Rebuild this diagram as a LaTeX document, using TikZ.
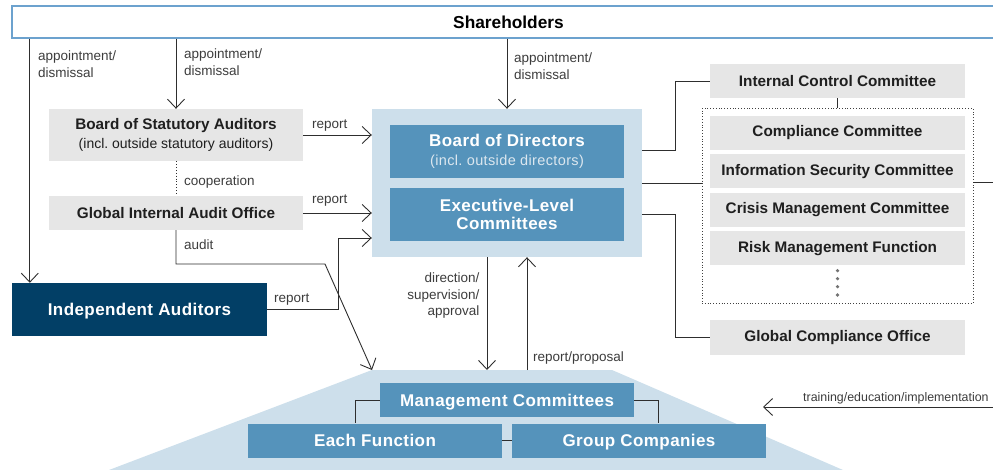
\documentclass[tikz,border=0pt]{standalone}
\usepackage{fontspec}
\setmainfont{Liberation Sans}
\usetikzlibrary{positioning, arrows.meta}
\frenchspacing
\definecolor{boxgray}{HTML}{E6E6E6}
\definecolor{paleblue}{HTML}{CDDFEB}
\definecolor{midblue}{HTML}{5593BB}
\definecolor{navy}{HTML}{023F66}
\definecolor{lineblue}{HTML}{6CA2CE}
\definecolor{txtgray}{HTML}{3C3C3C}
\definecolor{subwhite}{HTML}{DCE7EF}
\tikzset{graybox/.style={fill=boxgray,inner sep=0pt,minimum width=255pt,minimum height=34pt,
           text=black!88,align=center,font=\fontsize{15.3}{18}\selectfont\bfseries},
         bluebox/.style={fill=midblue,inner sep=0pt,minimum width=254pt,minimum height=34pt,
           text=white,align=center,font=\fontsize{17}{18.5}\selectfont\addfontfeature{LetterSpace=2.5}\bfseries},
         oneline/.style={text height=14pt,text depth=1.6pt},
         lbl/.style={inner sep=0pt,text=txtgray,align=left,font=\fontsize{13.5}{16.5}\selectfont},
         conn/.style={draw=black!82,line width=0.9pt},
         arr/.style={conn,-{Straight Barb[length=9pt,width=17pt]}}}

\begin{document}
\begin{tikzpicture}[x=1pt,y=-1pt]
        \useasboundingbox (0,0) rectangle (993,470);
        % background shapes
        \fill[paleblue] (372,370) coordinate (tl) -- (612,370) -- (843,470) -- (109,470) -- cycle;
        \node[fill=paleblue, minimum width=270pt, minimum height=148pt, inner sep=0pt](bg)at(507,183){};

        \node[draw=lineblue, line width=1.3pt, fill=white, minimum width=993pt, minimum height=32pt, inner sep=0pt,
              font=\fontsize{17.3}{18}\selectfont\bfseries](sh)at(508.5,22){Shareholders};

        \node[graybox, minimum width=254pt, minimum height=52pt](bsa)at(176,135){Board of Statutory Auditors\\[1pt]
              {\mdseries\fontsize{14}{17}\selectfont (incl. outside statutory auditors)}};
        \node[graybox, minimum width=254pt](giao)at(176,213){Global Internal Audit Office};
        \node[bluebox, oneline, fill=navy, minimum width=255pt, minimum height=53pt](ia)at(139.5,309.5){Independent Auditors};

        \node[bluebox, minimum width=234pt, minimum height=53pt](bod)at(507,151.5){Board of Directors\\
              {\mdseries\fontsize{14.5}{17}\selectfont\color{subwhite}(incl. outside directors)}};
        \node[bluebox, minimum width=234pt, minimum height=53pt](elc)at(507,214.5){Executive-Level\\Committees};

        \node[graybox](icc)at(837.5,81){Internal Control Committee};
        \node[draw=black!75, dotted, line width=0.8pt, minimum width=271pt, minimum height=195pt, inner sep=0pt](grp)at(837.5,206){};
        \node[graybox](cc)at(837.5,133){Compliance Committee};
        \node[graybox, below=4pt of cc](isc){Information Security Committee};
        \node[graybox, below=4pt of isc](cmc){Crisis Management Committee};
        \node[graybox, below=4pt of cmc](rmf){Risk Management Function};
        \foreach \y in {270.7,278.7,286.7,295}
            \fill[black!55] (837.5,\y) circle (1.8pt);
        \node[graybox, minimum height=35pt](gco)at(837.5,337.5){Global Compliance Office};

        \node[bluebox, oneline](mc)at(507,400){Management Committees};
        \node[bluebox, oneline](ef)at(375,440.5){Each Function};
        \node[bluebox, oneline](gc)at(639,440.5){Group Companies};

        % connectors
        \draw[arr]([xshift=18pt]ia.north west |- sh.south)--([xshift=18pt]ia.north west);
        \draw[arr](bsa.north |- sh.south)--(bsa.north);
        \draw[arr](bg.north |- sh.south)--(bg.north);
        \draw[arr](bsa.east)--(bsa.east -| bg.west);
        \draw[conn, dotted](bsa.south)--(giao.north);
        \draw[arr](giao.east)--(giao.east -| bg.west);
        \draw[arr](giao.south)|-(325,264)--(tl);
        \draw[arr](ia.east)--(338,309.5)|-(bg.west |- 0,238);
        \draw[conn](bg.east |- 0,150)--(675.5,150)|-(icc.west);
        \draw[conn](bg.east)--(bg.east -| grp.west);
        \draw[conn](bg.east |- elc.east)--(675.5,214.5)|-(gco.west);
        \draw[conn](icc.south)--(grp.north);
        \draw[conn](grp.east |- 0,182)--(1000,182);
        \draw[arr]([xshift=-20pt]bg.south)--([xshift=-20pt]bg.south |- tl);
        \draw[arr]([xshift=20pt]bg.south |- tl)--([xshift=20pt]bg.south);
        \draw[conn](mc.west)-|([xshift=-24pt]mc.west |- ef.north);
        \draw[conn](mc.east)-|([xshift=24pt]mc.east |- gc.north);
        \draw[conn](ef.east)--(gc.west);
        \coordinate (trs) at (1000,407);
        \coordinate (tre) at (763,407);
        \draw[arr](trs)--(tre);

        % labels (base = last line)
        \node[lbl, anchor=base west](lap1)at(38,77.5){appointment/\\dismissal};
        \node[lbl, anchor=base west](lap2)at(184,75.5){appointment/\\dismissal};
        \node[lbl, anchor=base west](lap3)at(514,79.5){appointment/\\dismissal};
        \node[lbl, anchor=base west](lrep1)at(312,128.5){report};
        \node[lbl, anchor=base west](lcoop)at(184,186){cooperation};
        \node[lbl, anchor=base west](lrep2)at(312,204){report};
        \node[lbl, anchor=base west](laudit)at(184,249.5){audit};
        \node[lbl, anchor=base west](lrep3)at(274,302){report};
        \node[lbl, anchor=base east, align=right](ldir)at(479.5,315.5){direction/\\supervision/\\approval};
        \node[lbl, anchor=base west](lprop)at(533,361.5){report/proposal};
        \node[lbl, anchor=base west, font=\fontsize{12.4}{15}\selectfont](ltrain)at(803,401){training/education/implementation};
    \end{tikzpicture}
\end{document}
